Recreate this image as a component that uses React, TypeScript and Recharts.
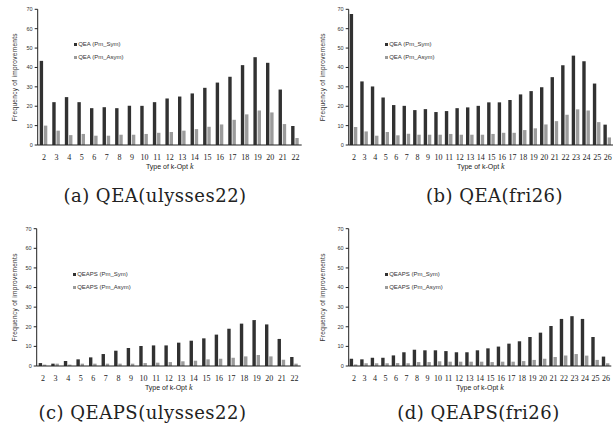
import { Bar, BarChart, XAxis, YAxis } from "recharts";

const kUlysses = [2, 3, 4, 5, 6, 7, 8, 9, 10, 11, 12, 13, 14, 15, 16, 17, 18, 19, 20, 21, 22];
const kFri = [2, 3, 4, 5, 6, 7, 8, 9, 10, 11, 12, 13, 14, 15, 16, 17, 18, 19, 20, 21, 22, 23, 24, 25, 26];

const qeaUlySym = [43.4, 22.1, 24.7, 22.1, 19, 19.5, 19, 20.2, 20.2, 22.1, 24, 25, 26.6, 29.5, 32.2, 35.2, 41.2, 45.3, 42.4, 28.6, 9.8];
const qeaUlyAsym = [10, 7.4, 5.1, 5.7, 4.8, 4.8, 5.3, 5.3, 5.7, 6.3, 6.7, 7.4, 8.2, 9.4, 10.6, 13, 15.8, 17.8, 16.8, 10.8, 3.6];

const qeaFriSym = [67.6, 32.8, 30.2, 24.5, 20.6, 20.2, 18, 18.5, 17, 17.5, 19, 19.4, 20.2, 22, 22, 23.2, 26.1, 27.8, 29.8, 35, 41.2, 46.1, 43.2, 31.7, 10.5];
const qeaFriAsym = [9.3, 7, 4.8, 6.7, 5, 5.8, 5.3, 5.3, 5.3, 5.7, 5.3, 5.3, 5.3, 5.7, 6.3, 6.3, 7.7, 8.6, 10.6, 12.3, 15.6, 18.4, 17.8, 11.8, 3.9];

const qeapsUlySym = [1.5, 1.2, 2.5, 3.4, 4.4, 6.1, 7.8, 9.2, 10.2, 10.5, 10.5, 11.9, 12.9, 14.1, 16, 19, 21.6, 23.4, 21.2, 13.8, 4.6];
const qeapsUlyAsym = [0.7, 1.2, 0.7, 1.2, 1.2, 1.2, 1.2, 1.2, 1.5, 1.7, 2, 2.4, 2.7, 3.4, 3.7, 4.2, 4.9, 5.6, 4.9, 3.2, 1.2];

const qeapsFriSym = [3.7, 3.4, 4.2, 4.2, 5.4, 7, 8.3, 8, 8, 7.6, 7, 7, 8, 9, 9.9, 11.4, 12.6, 14.8, 17, 20.4, 24, 25.4, 24, 14.8, 4.8];
const qeapsFriAsym = [0.8, 1.4, 1.4, 1.4, 1.5, 1.4, 2, 2, 2.4, 2.2, 2.2, 2.2, 2.2, 2, 2.2, 2.2, 2.5, 3.1, 3.7, 4.6, 5.3, 6.1, 5.3, 3.1, 1.4];

const yTicks = [0, 10, 20, 30, 40, 50, 60, 70];

const DARK = "#313131";
const LIGHT = "#9b9b9b";
const SANS = "'Liberation Sans', Arial, sans-serif";
const SERIF = "'Liberation Serif', serif";
const CAPTION_FONT = "'DejaVu Serif', serif";

interface PanelProps {
  x: number;
  y: number;
  plot: [number, number, number, number]; // left, top, right, bottom (page coords)
  ks: number[];
  sym: number[];
  asym: number[];
  algo: string;
  caption: string;
  captionX: number;
  captionY: number;
}

function Panel({ x, y, plot, ks, sym, asym, algo, caption, captionX, captionY }: PanelProps) {
  const W = 308;
  const H = 185;
  const xh = 28;
  const [pl, pt, pr, pb] = plot;
  const data = ks.map((k, i) => ({ k, sym: sym[i], asym: asym[i] }));
  const legendLeft = pl + 38;
  const legendTop = pt + (y === 0 ? 33 : 43);

  return (
    <>
      <div style={{ position: "absolute", left: x, top: y }}>
        <BarChart
          width={W}
          height={H}
          data={data}
          barSize={3.4}
          barGap={0.8}
          margin={{ top: pt - y, right: x + W - pr, left: 0, bottom: H - (pb - y) - xh }}
        >
          <XAxis
            dataKey="k"
            height={xh}
            tickLine={false}
            tickMargin={3}
            axisLine={{ stroke: "#222" }}
            interval={0}
            tick={{ fontSize: 8, fill: "#222", fontFamily: SERIF }}
            label={{
              position: "insideBottom",
              content: (p: any) => {
                const vb = p.viewBox;
                return (
                  <text
                    x={vb.x + vb.width / 2}
                    y={vb.y + 24}
                    textAnchor="middle"
                    fontSize={7}
                    fontFamily={SANS}
                    fill="#222"
                  >
                    Type of k-Opt{" "}
                    <tspan fontFamily={SERIF} fontStyle="italic" fontSize={8}>k</tspan>
                  </text>
                );
              }
            }}
          />
          <XAxis xAxisId="top" dataKey="k" orientation="top" height={0} tick={false} tickLine={false} axisLine={{ stroke: "#222" }} />
          <YAxis
            width={pl - x}
            domain={[0, 70]}
            ticks={yTicks}
            tickSize={3}
            tickLine={{ stroke: "#222" }}
            axisLine={{ stroke: "#222" }}
            tick={{ fontSize: 5.5, fill: "#333", fontFamily: SANS }}
            label={{
              position: "insideLeft",
              content: (p: any) => {
                const vb = p.viewBox;
                const cx = 15;
                const cy = vb.y + vb.height / 2;
                return (
                  <text
                    x={cx}
                    y={cy}
                    transform={`rotate(-90 ${cx} ${cy})`}
                    textAnchor="middle"
                    dominantBaseline="central"
                    fontSize={6.5}
                    fontFamily={SANS}
                    fill="#333"
                    letterSpacing={0.3}
                  >
                    Frequency of improvements
                  </text>
                );
              }
            }}
          />
          <YAxis yAxisId="right" orientation="right" width={0} domain={[0, 70]} tick={false} tickLine={false} axisLine={{ stroke: "#222" }} />
          <Bar dataKey="sym" fill={DARK} isAnimationActive={false} />
          <Bar dataKey="asym" fill={LIGHT} isAnimationActive={false} />
        </BarChart>
      </div>
      <div
        style={{
          position: "absolute",
          left: legendLeft - 2,
          top: legendTop - 4,
          fontFamily: SANS,
          fontSize: 6,
          color: "#333",
          lineHeight: "13px"
        }}
      >
        {[
          { c: DARK, t: `${algo} (Pm_Sym)` },
          { c: LIGHT, t: `${algo} (Pm_Asym)` }
        ].map((it) => (
          <div key={it.t} style={{ display: "flex", alignItems: "center", height: 13 }}>
            <span style={{ width: 3, height: 3, background: it.c, marginRight: 1.5 }} />
            {it.t}
          </div>
        ))}
      </div>
      <div
        style={{
          position: "absolute",
          left: captionX - 150,
          width: 300,
          top: captionY - 12,
          textAlign: "center",
          fontFamily: CAPTION_FONT,
          fontSize: 18,
          letterSpacing: 0.5,
          color: "#222",
          lineHeight: "24px",
          whiteSpace: "nowrap"
        }}
      >
        {caption}
      </div>
    </>
  );
}

export default function App() {
  return (
    <div style={{ position: "fixed", left: 0, top: 0, width: 616, height: 427, background: "#fff", overflow: "hidden" }}>
      <Panel x={0} y={0} plot={[37.7, 9.3, 301.7, 145]} ks={kUlysses} sym={qeaUlySym} asym={qeaUlyAsym} algo="QEA" caption="(a) QEA(ulysses22)" captionX={155} captionY={196} />
      <Panel x={308} y={0} plot={[348.7, 9.3, 613, 145]} ks={kFri} sym={qeaFriSym} asym={qeaFriAsym} algo="QEA" caption="(b) QEA(fri26)" captionX={494.5} captionY={196} />
      <Panel x={0} y={213} plot={[36.7, 228.7, 300.7, 366]} ks={kUlysses} sym={qeapsUlySym} asym={qeapsUlyAsym} algo="QEAPS" caption="(c) QEAPS(ulysses22)" captionX={142.5} captionY={413} />
      <Panel x={308} y={213} plot={[348.7, 228.7, 611.3, 366]} ks={kFri} sym={qeapsFriSym} asym={qeapsFriAsym} algo="QEAPS" caption="(d) QEAPS(fri26)" captionX={478.5} captionY={413} />
    </div>
  );
}
